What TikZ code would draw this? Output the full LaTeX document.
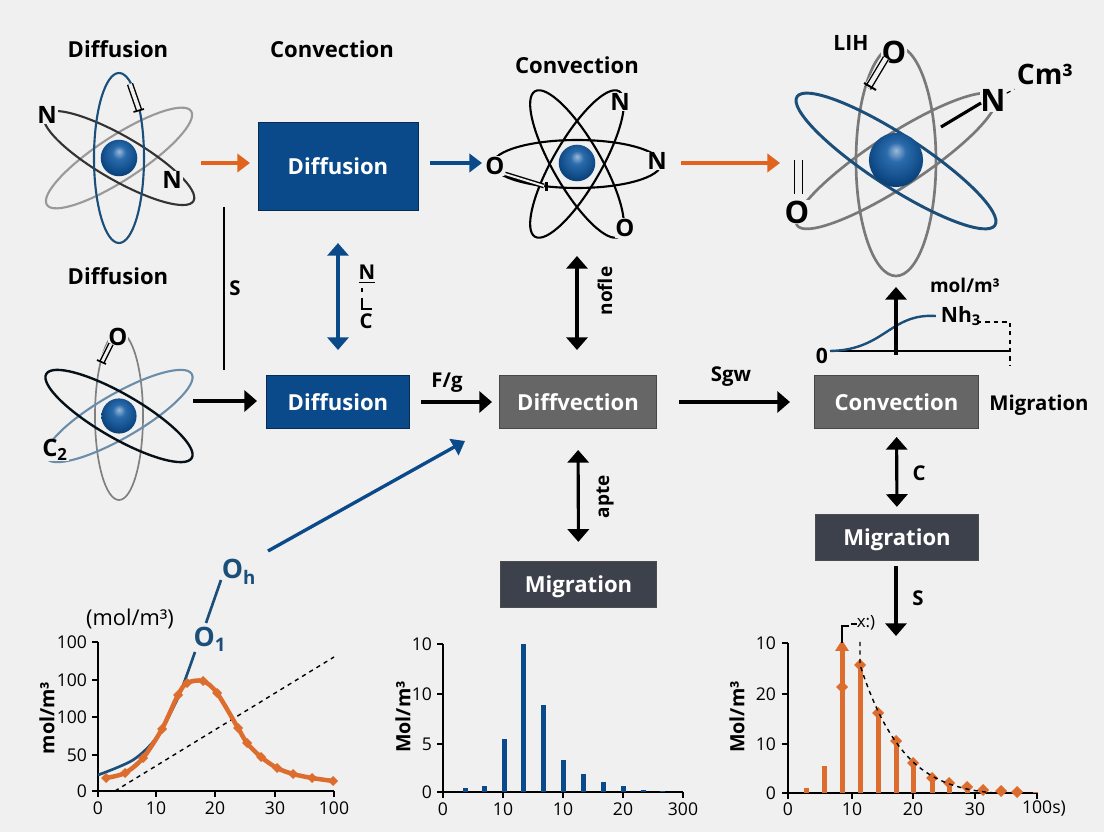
\documentclass[tikz,border=0pt]{standalone}
\usepackage{fontspec}
\setmainfont{Open Sans}
\usetikzlibrary{arrows.meta,shadings}
\definecolor{bgcol}{HTML}{F0F0F0}
\definecolor{navy}{HTML}{0B4A8A}
\definecolor{steel}{HTML}{1B4F7A}
\definecolor{orng}{HTML}{E0641E}
\definecolor{plotorng}{HTML}{DD6D2E}
\definecolor{greybox}{HTML}{666666}
\definecolor{darkbox}{HTML}{3C414B}
\definecolor{ballhi}{HTML}{9DB9D8}
\definecolor{ballmid}{HTML}{2B6BAC}
\definecolor{balldark}{HTML}{0E4A86}
\pgfdeclareradialshading{atomball}{\pgfpoint{0bp}{9bp}}{color(0bp)=(ballhi); color(9bp)=(ballmid); color(24bp)=(balldark); color(33bp)=(balldark!70!black); color(50bp)=(balldark!70!black)}
\tikzset{
  head/.style={font=\bfseries\fontsize{15.7}{18}\selectfont,text=black},
  boxtext/.style={font=\bfseries\fontsize{15.7}{18}\selectfont,text=white,text height=11.5pt,text depth=0pt},
  elem/.style={font=\bfseries\fontsize{17}{18}\selectfont,fill=bgcol,inner sep=0.6pt},
  bigelem/.style={font=\bfseries\fontsize{22}{24}\selectfont,fill=bgcol,inner sep=0.6pt},
  lbl/.style={font=\bfseries\fontsize{14.5}{17}\selectfont},
  tick/.style={font=\fontsize{12.5}{14}\selectfont},
  axlab/.style={font=\bfseries\fontsize{14}{16}\selectfont,rotate=90},
  ball/.style={circle,inner sep=0pt,shading=atomball},
  orbit/.style={line width=1.5pt},
  blackar/.style={-{Triangle[length=9pt,width=15pt]},line width=2.2pt,black},
  twoar/.style={{Triangle[length=9pt,width=15pt]}-{Triangle[length=9pt,width=15pt]},line width=2.2pt,black},
  orangear/.style={-{Triangle[length=9pt,width=13pt]},line width=2.4pt,orng},
  bluear/.style={-{Triangle[length=9pt,width=13pt]},line width=2.4pt,navy},
  bar/.style={double=bgcol,double distance=2.6pt,line width=1pt,black},
}
\begin{document}
\begin{tikzpicture}[x=0.25mm,y=-0.25mm]
 \fill[bgcol] (0,0) rectangle (1104,832);
 \useasboundingbox (0,0) rectangle (1104,832);

 % headings
 \node[head] (tA) at (118,49) {Diffusion};
 \node[head] (tB) at (332,49) {Convection};
 \node[head] (tC) at (577,65) {Convection};
 \node[head] (tD) at (118,276) {Diffusion};

 % atom top left
 \begin{scope}[shift={(119,158)}]
  \draw[orbit,gray!80] (0,0) ellipse[x radius=86,y radius=22,rotate=33];
  \draw[orbit,black!80] (0,0) ellipse[x radius=86,y radius=22,rotate=-30];
  \draw[orbit,steel] (0,0) ellipse[x radius=25,y radius=85];
 \end{scope}
 \node[ball,minimum size=26pt] (ballA) at (119,158) {};
 \node[elem] (nA) at (47,115) {N};
 \node[elem] (nB) at (172,180) {N};
 \coordinate (barAa) at (130,84);
 \coordinate (barAb) at (139,110);
 \draw[bgcol,line width=5pt] (barAa) -- (barAb);
 \draw[bar] (barAa) -- (barAb);
 \draw[line width=1.2pt] (133.5,112) -- (144,109);

 % atom lower left
 \begin{scope}[shift={(119,416)}]
  \draw[orbit,line width=1.2pt,gray] (0,0) ellipse[x radius=24,y radius=84];
  \draw[orbit,steel!65!white] (0,0) ellipse[x radius=84,y radius=22,rotate=30];
  \draw[orbit,line width=1.7pt,black!80!steel] (0,0) ellipse[x radius=84,y radius=22,rotate=-30];
 \end{scope}
 \node[ball,minimum size=25pt] (ballB) at (119,416) {};
 \node[elem] (oA) at (118,337) {O};
 \node[elem] (cA) at (55,450) {C\textsubscript{2}};
 \coordinate (barBa) at (102,362);
 \coordinate (barBb) at (111,344);
 \draw[bgcol,line width=5pt] (barBa) -- (barBb);
 \draw[bar,double distance=2pt] (barBa) -- (barBb);
 \draw[line width=1.2pt] (97,360) -- (106,364);

 % atom top middle
 \begin{scope}[shift={(577,164)}]
  \draw[orbit,black] (0,0) ellipse[x radius=84,y radius=24];
  \draw[orbit,black] (0,0) ellipse[x radius=84,y radius=24,rotate=60];
  \draw[orbit,black] (0,0) ellipse[x radius=84,y radius=24,rotate=-60];
 \end{scope}
 \node[ball,minimum size=26pt] (ballC) at (577,163) {};
 \node[elem] (nC) at (620,102) {N};
 \node[elem] (nD) at (657,161) {N};
 \node[elem] (oB) at (495,166) {O};
 \node[elem] (oC) at (625,228) {O};
 \coordinate (barCa) at (505,174);
 \coordinate (barCb) at (544,186);
 \draw[bar,double distance=1.4pt] (barCa) -- (barCb);
 \fill[black] (545,182) rectangle (548,191);

 % atom top right
 \begin{scope}[shift={(896,161)}]
  \draw[orbit,line width=1.9pt,gray!95!black] (0,0) ellipse[x radius=40,y radius=115];
  \draw[orbit,line width=1.9pt,gray!95!black] (0,0) ellipse[x radius=118,y radius=26,rotate=33];
  \draw[orbit,line width=2.1pt,steel] (0,0) ellipse[x radius=118,y radius=26,rotate=-33];
 \end{scope}
 \node[ball,minimum size=38.5pt] (ballD) at (896,160) {};
 \node[font=\bfseries\fontsize{15}{18}\selectfont] (lih) at (851,43) {LIH};
 \node[bigelem] (oD) at (894,52) {O};
 \node[bigelem] (nE) at (993,100) {N};
 \node[bigelem] (oE) at (797,212) {O};
 \node[font=\bfseries\fontsize{20}{22}\selectfont] (cm) at (1045,74) {Cm³};
 \draw[dashed,line width=0.9pt] (nE) -- (cm);
 \coordinate (barDa) at (941,127);
 \coordinate (barDb) at (981,103);
 \draw[line width=2.2pt] (barDa) -- (barDb);
 \coordinate (barEa) at (868,88);
 \coordinate (barEb) at (886,58);
 \draw[bgcol,line width=6pt] (barEa) -- (barEb);
 \draw[bar,double distance=3pt] (barEa) -- (barEb);
 \draw[line width=1.4pt] (864,83) -- (876,90);
 \coordinate (barFa) at (798.5,160);
 \coordinate (barFb) at (798.5,194);
 \draw[bar,double distance=4.6pt] (barFa) -- (barFb);

 % boxes
 \node[draw=navy!60!black,fill=navy,boxtext,minimum width=113.5pt,minimum height=63pt,inner sep=0pt] (boxA) at (338,166.5) {Diffusion};
 \node[draw=navy!60!black,fill=navy,boxtext,minimum width=102pt,minimum height=38pt,inner sep=0pt] (boxB) at (338,402) {Diffusion};
 \node[draw=greybox!70!black,fill=greybox,boxtext,minimum width=112pt,minimum height=38pt,inner sep=0pt] (boxC) at (578,402) {Diffvection};
 \node[draw=greybox!70!black,fill=greybox,boxtext,minimum width=117pt,minimum height=38pt,inner sep=0pt] (boxD) at (896.5,402) {Convection};
 \node[draw=black!70,fill=darkbox,boxtext,minimum width=111pt,minimum height=32.5pt,inner sep=0pt] (boxE) at (578.5,584) {Migration};
 \node[draw=black!70,fill=darkbox,boxtext,minimum width=116pt,minimum height=32.5pt,inner sep=0pt] (boxF) at (897,537) {Migration};
 \node[font=\bfseries\fontsize{14.5}{17}\selectfont] (migr) at (1039,405) {Migration};

 % arrows
 \coordinate (arA) at (201,163);
 \coordinate (arB) at (430,163);
 \coordinate (arBe) at (482,163);
 \coordinate (arC) at (681,163);
 \coordinate (arCe) at (780,163);
 \draw[orangear,shorten >=2mm] (arA) -- (arA -| boxA.west);
 \draw[bluear] (arB) -- (arBe);
 \draw[orangear] (arC) -- (arCe);

 \coordinate (lineS) at (224,207);
 \coordinate (lineSe) at (224,370);
 \draw[line width=1.1pt] (lineS) -- (lineSe);
 \node[lbl] (lblS) at (235,288) {S};
 \coordinate (arD) at (193,401);
 \draw[blackar,shorten >=2.25mm] (arD) -- (arD -| boxB.west);
 \draw[{Triangle[length=9pt,width=15pt]}-{Triangle[length=9pt,width=15pt]},line width=2.4pt,navy,shorten <=8mm,shorten >=6.25mm] (boxA) -- (boxB);
 \node[lbl] (lblN) at (367,274) {\underline{N}};
 \node[lbl] (lblCc) at (366,321) {C};
 \draw[line width=1.2pt] (362,288) -- (362,292);
 \draw[line width=1.2pt] (362,298) -- (362,309) -- (372,309);
 \draw[blackar,shorten <=2.75mm,shorten >=1.75mm] (boxB) -- (boxC);
 \node[lbl] (lblFg) at (447,383) {F/g};
 \draw[twoar,shorten >=6.25mm] (ballC |- 0,256) -- (ballC |- boxC.north);
 \node[font=\bfseries\fontsize{13.5}{15}\selectfont,rotate=90] (lblNo) at (605,291) {nofle};
 \draw[blackar,shorten <=5.5mm,shorten >=6mm] (boxC) -- (boxD);
 \node[lbl] (lblSg) at (731,377) {Sgw};
 \draw[twoar,shorten <=5.25mm,shorten >=4.75mm] (boxC) -- (boxE);
 \node[font=\bfseries\fontsize{13.5}{15}\selectfont,rotate=90] (lblAp) at (605,497) {apte};
 \draw[twoar,shorten <=2mm,shorten >=1.75mm] (boxD) -- (boxF);
 \node[lbl] (lblC) at (919,473) {C};
 \coordinate (arE) at (896,636);
 \draw[blackar,shorten <=1.5mm] (boxF.south -| arE) -- (arE);
 \node[lbl] (lblSb) at (918,598) {S};

 % small curve under atom
 \node[font=\bfseries\fontsize{13.5}{15}\selectfont] (molr) at (965,285) {mol/m³};
 \node[font=\bfseries\fontsize{15}{16}\selectfont] (nh) at (961,316) {Nh\textsubscript{3}};
 \node[font=\bfseries\fontsize{15}{16}\selectfont] (zr) at (822,356) {0};
 \coordinate (axR) at (1010,351);
 \draw[line width=1.1pt] (zr.east |- axR) -- (axR);
 \draw[dashed,line width=0.8pt] (977,322) -- (1010,322) -- (1010,366);
 \draw[line width=1.7pt,steel] (830,351) .. controls (885,350) and (890,313) .. (nh.west);
 \coordinate (arF) at (896,355);
 \coordinate (arFe) at (896,287);
 \draw[blackar] (arF) -- (arFe);

 % plot left
 \draw[line width=1.1pt] (98,642) -- (98,791) -- (334,791);
 \foreach \y/\lab in {642/100,680/100,717/100,755/50,791/0}{
  \draw[line width=1.1pt] (92,\y) -- (98,\y);
  \node[tick,anchor=east] (yA\y) at (92,\y) {\lab};
 }
 \foreach \x/\lab in {98/0,156/10,215/20,275/30,334/100}{
  \draw[line width=1.1pt] (\x,791) -- (\x,797);
  \node[tick] (xA\x) at (\x,808) {\lab};
 }
 \node[axlab] (yLabA) at (47,718) {mol/m³};
 \node[font=\fontsize{15.5}{17}\selectfont] (unitA) at (130,619) {(mol/m³)};
 \draw[dashed,line width=1pt] (115,791) -- (334,657);
 \draw[line width=1.9pt,steel] plot[smooth] coordinates {(98,775) (133,760) (157,737) (177,700) (185,680) (195,652)};
 \draw[line width=3.2pt,plotorng] plot[smooth] coordinates {(106,778) (125,773) (143,758) (162,729) (178,695) (187,683) (203,681) (217,693) (238,728) (247,743) (261,757) (277,768) (293,774) (312,778) (333,781)};
 \foreach \x/\y in {106/778,125/773,143/758,162/729,178/695,187/683,203/681,217/693,238/728,247/743,261/757,277/768,293/774,312/778,333/781}{
  \fill[plotorng,shift={(\x,\y)}] (-5,0) -- (0,-5) -- (5,0) -- (0,5) -- cycle;
 }
 \node[font=\bfseries\fontsize{19}{20}\selectfont,text=steel,inner sep=0pt] (oOne) at (210,639) {O\textsubscript{1}};
 \node[font=\bfseries\fontsize{19}{20}\selectfont,text=steel,inner sep=0pt] (oTwo) at (239,572) {O\textsubscript{h}};
 \coordinate (arH) at (206,623);
 \coordinate (arHe) at (221,580);
 \draw[line width=1.9pt,steel] (arH) -- (arHe);
 \coordinate (arG) at (268,551);
 \coordinate (arGe) at (465,441);
 \draw[bluear] (arG) -- (arGe);

 % plot middle
 \draw[line width=1.1pt] (443,644) -- (443,792) -- (683,792);
 \foreach \y/\lab in {644/10,694/10,744/5,792/0}{
  \draw[line width=1.1pt] (437,\y) -- (443,\y);
  \node[tick,anchor=east] (yB\y) at (437,\y) {\lab};
 }
 \foreach \x/\lab in {443/0,503/10,563/10,623/20,683/300}{
  \draw[line width=1.1pt] (\x,792) -- (\x,798);
  \node[tick] (xB\x) at (\x,809) {\lab};
 }
 \node[axlab] (yLabB) at (403,717) {Mol/m³};
 \foreach \x/\y in {465/788,484/786,504/739,523/644,543/705,563/760,583/774,603/782,623/786,643/790,662/791}{
  \fill[navy] (\x-2.5,\y) rectangle (\x+2.5,792);
 }

 % plot right
 \draw[line width=1.1pt] (788,643) -- (788,793) -- (1037,793);
 \foreach \y/\lab in {643/10,694/20,744/10,793/0}{
  \draw[line width=1.1pt] (782,\y) -- (788,\y);
  \node[tick,anchor=east] (yC\y) at (781,\y) {\lab};
 }
 \foreach \x/\lab in {788/0,852/10,913/20,975/30}{
  \draw[line width=1.1pt] (\x,793) -- (\x,799);
  \node[tick] (xC\x) at (\x,809) {\lab};
 }
 \draw[line width=1.1pt] (1037,793) -- (1037,799);
 \node[tick] (xCe) at (1044,809) {100s)};
 \node[axlab] (yLabC) at (737,717) {Mol/m³};
 \foreach \x/\y in {806/788,824/766,842/647,860/665,878/713,896/741,913/763,932/775,949/781,967/786,983/789,1001/790,1017/791,1035/792}{
  \fill[plotorng] (\x-2.5,\y) rectangle (\x+2.5,793);
 }
 \foreach \x/\y in {842/687,860/665,878/713,896/741,913/763,932/778,949/783,967/787,983/790,1001/791,1017/792}{
  \fill[plotorng,shift={(\x,\y)}] (-6,0) -- (0,-6) -- (6,0) -- (0,6) -- cycle;
 }
 \fill[plotorng] (835,651) -- (842,640) -- (849,651) -- cycle;
 \draw[dashed,line width=1pt] (860,642) -- (860,665) .. controls (870,695) and (885,735) .. (913,762) .. controls (935,782) and (960,790) .. (995,793);
 \node[font=\fontsize{12}{14}\selectfont] (xLbl) at (866,623) {x:)};
 \draw[line width=1.1pt] (842,643) -- (842,626) -- (849,626);
 \draw[line width=1.1pt] (851,624) -- (857,624);
\end{tikzpicture}
\end{document}
